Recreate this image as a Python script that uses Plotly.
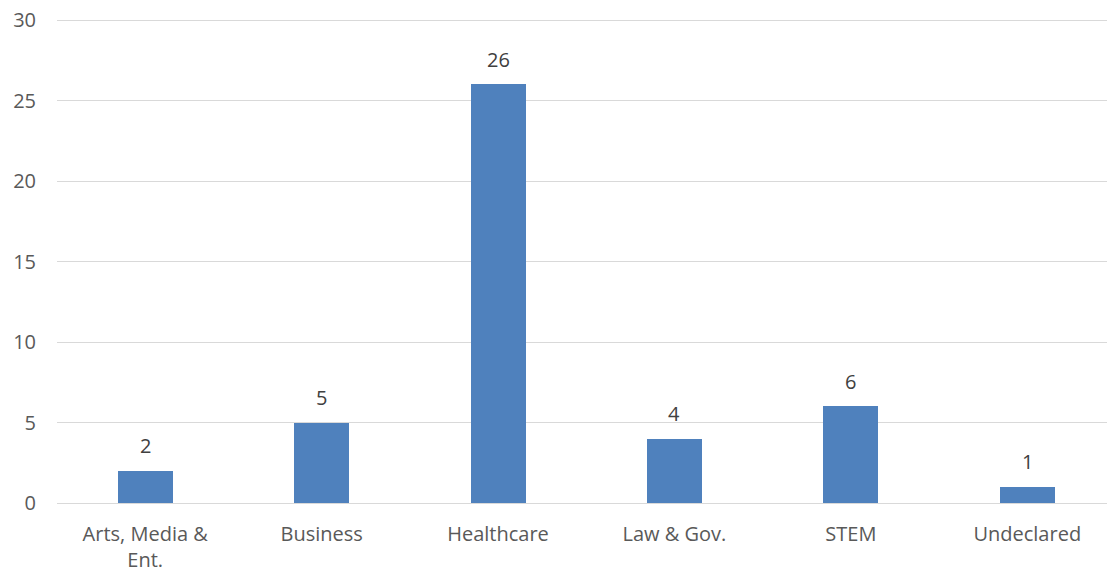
import plotly.graph_objects as go

categories = ["Arts, Media &<br>Ent.", "Business", "Healthcare", "Law & Gov.", "STEM", "Undeclared"]
values = [2, 5, 26, 4, 6, 1]
y_ticks = [0, 5, 10, 15, 20, 25, 30]

FONT = "Open Sans"
TXT = "#595959"
FS = 20

fig = go.Figure()
fig.add_trace(go.Bar(
    x=list(range(len(categories))), y=values,
    marker=dict(color="#4F81BD", line=dict(width=0)),
    width=0.312,
    hoverinfo="skip",
))

for i, v in enumerate(values):
    fig.add_annotation(x=i, y=v, text=str(v), showarrow=False,
                       yanchor="middle", yshift=25,
                       font=dict(family=FONT, size=FS, color="#404040"))

fig.update_layout(
    width=1107, height=574,
    margin=dict(l=57, r=0, t=12, b=71),
    paper_bgcolor="white", plot_bgcolor="white",
    showlegend=False,
    font=dict(family=FONT, size=FS, color=TXT),
    bargap=0,
)
fig.update_xaxes(
    range=[-0.5, 5.452],
    tickmode="array", tickvals=list(range(len(categories))), ticktext=categories,
    showgrid=False, zeroline=False, showline=False, ticks="",
    ticklabelstandoff=17,
    tickfont=dict(family=FONT, size=FS, color=TXT),
)
fig.update_yaxes(
    range=[0, 30.5], tickmode="array", tickvals=y_ticks,
    showgrid=True, gridcolor="#D9D9D9", gridwidth=1.3,
    zeroline=True, zerolinecolor="#D9D9D9", zerolinewidth=1.3,
    showline=False, ticks="", ticklabelstandoff=20,
    tickfont=dict(family=FONT, size=FS, color=TXT),
)

fig.write_html("out.html", config={"displayModeBar": False},
               post_script="document.body.style.margin='0';")
